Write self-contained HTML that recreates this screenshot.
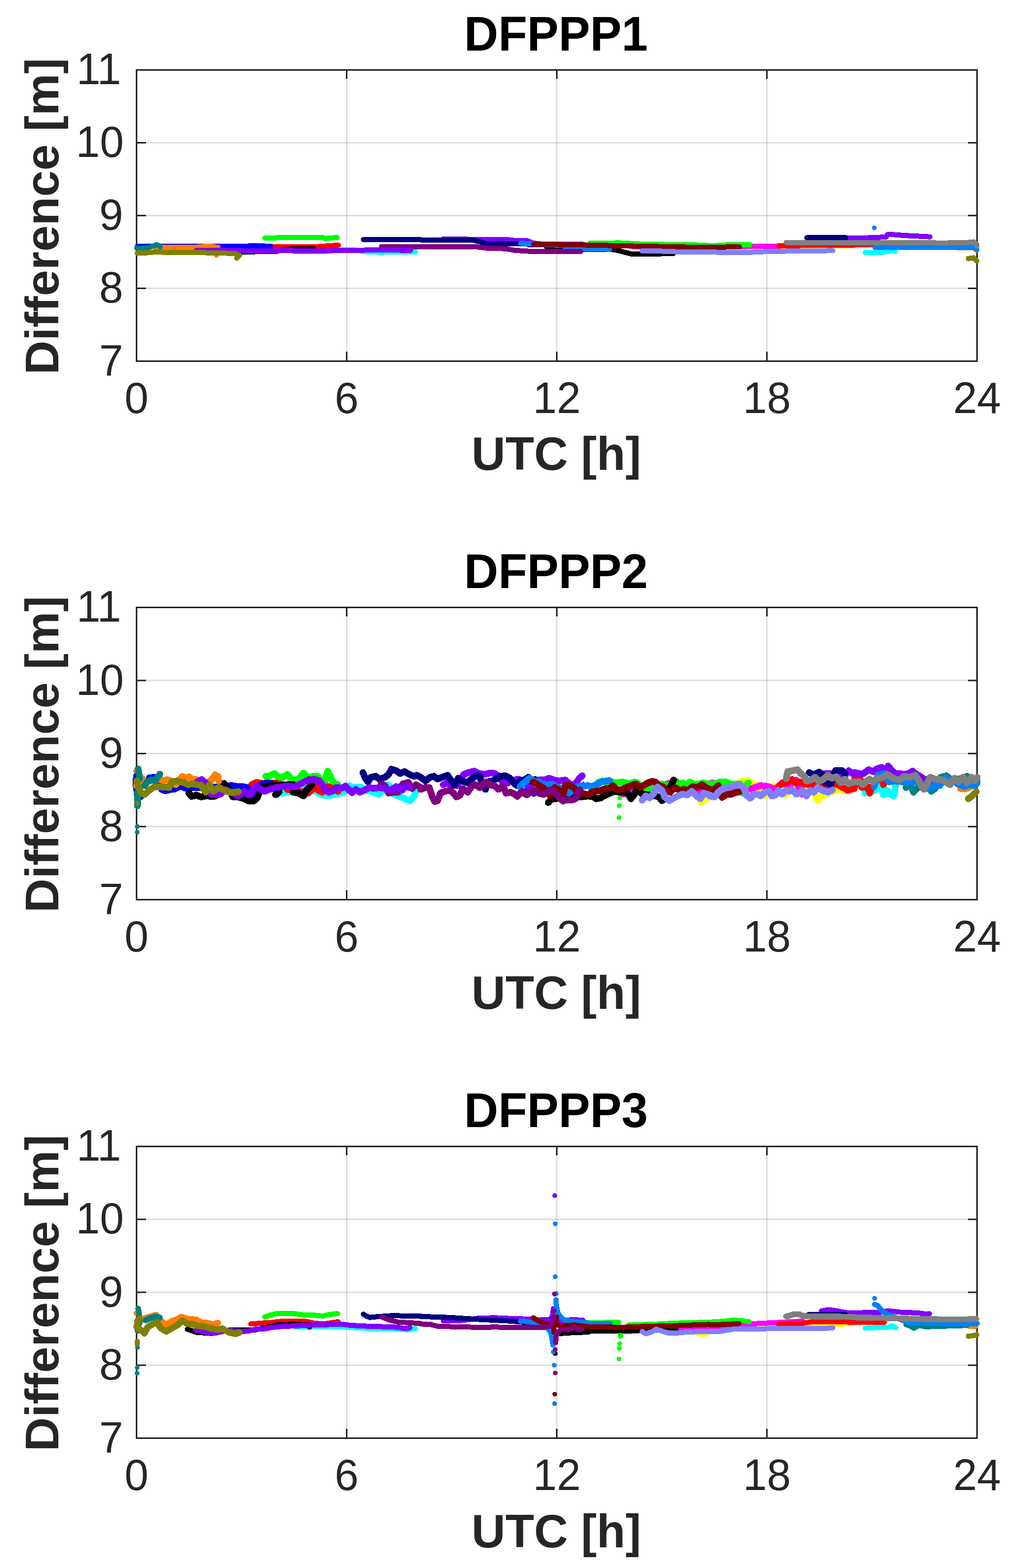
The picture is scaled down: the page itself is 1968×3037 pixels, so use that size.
<!DOCTYPE html>
<html lang="en">
<head>
<meta charset="utf-8">
<title>DFPPP difference plots</title>
<style>
html,body{margin:0;padding:0;background:#fff;}
body{width:1968px;height:3037px;overflow:hidden;}
svg{display:block;}
text{font-family:"Liberation Sans",sans-serif;}
.lab{font-weight:bold;}

</style>
</head>
<body>
<svg width="1968" height="3037" viewBox="0 0 1968 3037">
<rect x="0" y="0" width="1968" height="3037" fill="#fff"/>
<g class="ax" id="ax1">
<g stroke="#262626" stroke-opacity="0.15" stroke-width="3" fill="none">
<line x1="671.5" y1="154.0" x2="671.5" y2="680.0"/>
<line x1="1078.5" y1="154.0" x2="1078.5" y2="680.0"/>
<line x1="1485.5" y1="154.0" x2="1485.5" y2="680.0"/>
<line x1="284.0" y1="558.5" x2="1874.0" y2="558.5"/>
<line x1="284.0" y1="417.5" x2="1874.0" y2="417.5"/>
<line x1="284.0" y1="276.5" x2="1874.0" y2="276.5"/>
</g>
<g stroke="#262626" stroke-width="3" fill="none" stroke-linecap="butt">
<rect x="264.5" y="135.5" width="1628.0" height="564.0"/>
<line x1="671.5" y1="135.5" x2="671.5" y2="153.0"/>
<line x1="671.5" y1="699.5" x2="671.5" y2="681.0"/>
<line x1="1078.5" y1="135.5" x2="1078.5" y2="153.0"/>
<line x1="1078.5" y1="699.5" x2="1078.5" y2="681.0"/>
<line x1="1485.5" y1="135.5" x2="1485.5" y2="153.0"/>
<line x1="1485.5" y1="699.5" x2="1485.5" y2="681.0"/>
<line x1="264.5" y1="558.5" x2="283.0" y2="558.5"/>
<line x1="1892.5" y1="558.5" x2="1875.0" y2="558.5"/>
<line x1="264.5" y1="417.5" x2="283.0" y2="417.5"/>
<line x1="1892.5" y1="417.5" x2="1875.0" y2="417.5"/>
<line x1="264.5" y1="276.5" x2="283.0" y2="276.5"/>
<line x1="1892.5" y1="276.5" x2="1875.0" y2="276.5"/>
</g>
<g fill="none" stroke-linecap="round" stroke-linejoin="round" shape-rendering="crispEdges">
<polyline stroke="#ffff00" stroke-width="10.0" points="1389.5,478.6 1502.1,478.3 1616.5,476.5 1647.4,476.1"/>
<polyline stroke="#ff00ff" stroke-width="10.0" points="1222.1,477.5 1375.0,478.6 1393.2,478.1 1447.6,477.5 1538.4,476.1"/>
<polyline stroke="#00ffff" stroke-width="10.0" points="567.7,487.0 625.8,487.0 660.3,484.4 689.3,484.4 709.3,487.7 734.7,488.6 771.1,488.1 804.6,488.4"/>
<polyline stroke="#00ffff" stroke-width="10.0" points="1675.9,489.0 1709.5,489.0 1718.6,486.6 1734.0,486.3"/>
<polyline stroke="#00ff00" stroke-width="10.0" points="513.2,461.2 535.0,460.5 625.8,460.1 629.4,461.9 636.7,461.2 653.0,460.1"/>
<polyline stroke="#00ff00" stroke-width="10.0" points="1142.6,471.2 1156.7,471.4 1198.5,470.3 1240.3,472.6 1276.6,473.4 1294.7,473.6 1331.1,473.6 1375.0,475.7 1375.0,476.3 1402.2,474.6 1429.5,473.9 1452.7,473.9"/>
<polyline stroke="#ff0000" stroke-width="10.0" points="500.1,475.7 511.0,475.7"/>
<polyline stroke="#ff0000" stroke-width="10.0" points="527.4,477.5 535.0,477.9 607.6,478.3 625.8,476.8 653.0,475.0 655.4,475.0"/>
<polyline stroke="#ff0000" stroke-width="10.0" points="1508.5,475.7 1655.0,475.0 1655.0,473.9 1687.7,473.9"/>
<polyline stroke="#0000ff" stroke-width="10.0" points="266.3,476.6 480.2,476.6 491.1,475.7 500.1,476.6 523.7,476.6"/>
<polyline stroke="#0000ff" stroke-width="10.0" points="1023.8,473.9 1060.1,474.5"/>
<polyline stroke="#000000" stroke-width="10.0" points="469.3,487.7 534.6,487.2 535.0,486.3 565.9,482.1 607.6,482.1"/>
<polyline stroke="#000000" stroke-width="10.0" points="1058.3,477.7 1095.0,478.1 1109.5,478.6 1131.3,483.0 1185.8,483.4 1196.7,484.8 1207.6,488.1 1222.1,491.7 1258.4,491.7 1303.8,491.3"/>
<polyline stroke="#ff8000" stroke-width="10.0" points="301.3,478.6 382.1,478.6 396.6,477.2 409.3,477.2 418.4,478.6 422.1,478.6"/>
<polyline stroke="#ff8000" stroke-width="10.0" points="419.3,493.9 419.5,493.9"/>
<polyline stroke="#ff8000" stroke-width="10.0" points="1854.7,479.9 1885.6,479.9 1892.0,484.4"/>
<polyline stroke="#008080" stroke-width="10.0" points="265.0,480.5 278.6,480.8 291.3,478.6 304.0,473.9 309.5,476.3 310.4,478.1"/>
<polyline stroke="#008080" stroke-width="10.0" points="1754.9,479.2 1836.6,479.2"/>
<polyline stroke="#8000ff" stroke-width="10.0" points="858.6,462.7 894.9,462.7 911.2,463.7 978.4,463.7 996.6,465.7 1020.2,465.9 1032.9,470.8 1051.1,473.0 1095.0,473.0 1095.0,473.0 1127.7,473.0"/>
<polyline stroke="#8000ff" stroke-width="10.0" points="1640.1,461.2 1655.0,461.2 1682.2,460.5 1716.7,459.0 1718.6,454.5 1723.1,453.6 1736.7,455.0 1763.9,456.8 1782.1,457.6 1801.2,458.7"/>
<polyline stroke="#000080" stroke-width="10.0" points="703.9,463.9 815.0,463.9 815.0,464.5 914.9,464.5 927.6,468.1 942.1,471.7 1003.8,471.7 1032.9,472.6"/>
<polyline stroke="#000080" stroke-width="10.0" points="1562.9,460.3 1638.3,460.3"/>
<polyline stroke="#0080ff" stroke-width="10.0" points="1008.4,471.4 1029.3,471.7 1051.1,473.9 1095.0,475.0 1095.0,479.9 1113.2,481.7 1181.3,482.6"/>
<polyline stroke="#0080ff" stroke-width="10.0" points="1694.9,479.4 1885.6,479.0 1892.0,483.5"/>
<polyline stroke="#0080ff" stroke-width="9.2" points="1693.7,441.2 1693.7,441.2"/>
<polyline stroke="#800000" stroke-width="10.0" points="1033.8,473.2 1095.0,473.6 1095.0,473.6 1185.8,475.7 1276.6,477.5 1331.1,478.6 1375.0,479.0 1375.0,479.0 1432.2,478.1"/>
<polyline stroke="#8080ff" stroke-width="10.0" points="1243.9,485.9 1276.6,486.3 1312.9,487.7 1375.0,488.1 1375.0,488.4 1447.6,489.0 1483.9,487.2 1556.6,485.9 1612.9,485.4"/>
<polyline stroke="#800080" stroke-width="10.0" points="739.3,477.5 815.0,477.9 815.0,478.1 923.9,478.3 942.1,480.5 978.4,481.7 996.6,484.8 1032.9,487.2 1095.0,487.5 1095.0,487.5 1125.0,487.2"/>
<polyline stroke="#8000ff" stroke-width="10.0" points="380.3,484.8 454.7,484.8 472.9,485.7 535.0,485.7 535.0,485.4 625.8,485.7 698.4,484.8 716.6,484.1 752.9,483.5 794.7,485.4"/>
<polyline stroke="#808080" stroke-width="10.0" points="1523.0,469.6 1655.0,470.3 1655.0,470.3 1800.3,469.9 1818.4,470.8 1872.9,469.9 1885.6,468.5 1891.1,472.6 1892.5,476.3"/>
<polyline stroke="#808000" stroke-width="10.0" points="265.9,490.3 282.2,489.9 304.0,487.7 318.6,489.0 345.8,489.5 382.1,489.0 418.4,490.1 454.7,490.8 463.8,494.4 458.4,499.9"/>
<polyline stroke="#808000" stroke-width="10.0" points="1875.6,500.8 1885.6,499.3 1892.0,505.3"/>
</g>
<g class="tl" fill="#262626" font-size="83.33px">
<text transform="translate(238.5,727.00) scale(1,1.015)" text-anchor="end">7</text>
<text transform="translate(238.5,586.00) scale(1,1.015)" text-anchor="end">8</text>
<text transform="translate(238.5,445.00) scale(1,1.015)" text-anchor="end">9</text>
<text transform="translate(239.8,304.00) scale(1,1.015)" text-anchor="end">10</text>
<text transform="translate(234.7,163.00) scale(1,1.015)" text-anchor="end">11</text>
<text transform="translate(264.50,800.00) scale(1,1.015)" text-anchor="middle">0</text>
<text transform="translate(671.50,800.00) scale(1,1.015)" text-anchor="middle">6</text>
<text transform="translate(1078.50,800.00) scale(1,1.015)" text-anchor="middle">12</text>
<text transform="translate(1485.50,800.00) scale(1,1.015)" text-anchor="middle">18</text>
<text transform="translate(1892.50,800.00) scale(1,1.015)" text-anchor="middle">24</text>
</g>
<text class="lab" fill="#262626" font-size="91px" text-anchor="middle" transform="translate(1077.50,909.50) scale(1,1.0)">UTC [h]</text>
<text class="lab" fill="#262626" font-size="91.2px" text-anchor="middle" transform="translate(113,418.90) rotate(-90) scale(1,1.0)">Difference [m]</text>
<text class="lab" fill="#000" font-size="91.5px" text-anchor="middle" transform="translate(1077.00,97.50) scale(1,1.037)">DFPPP1</text>
</g>
<g class="ax" id="ax2">
<g stroke="#262626" stroke-opacity="0.15" stroke-width="3" fill="none">
<line x1="671.5" y1="1195.0" x2="671.5" y2="1723.0"/>
<line x1="1078.5" y1="1195.0" x2="1078.5" y2="1723.0"/>
<line x1="1485.5" y1="1195.0" x2="1485.5" y2="1723.0"/>
<line x1="284.0" y1="1601.0" x2="1874.0" y2="1601.0"/>
<line x1="284.0" y1="1459.5" x2="1874.0" y2="1459.5"/>
<line x1="284.0" y1="1318.0" x2="1874.0" y2="1318.0"/>
</g>
<g stroke="#262626" stroke-width="3" fill="none" stroke-linecap="butt">
<rect x="264.5" y="1176.5" width="1628.0" height="566.0"/>
<line x1="671.5" y1="1176.5" x2="671.5" y2="1194.0"/>
<line x1="671.5" y1="1742.5" x2="671.5" y2="1724.0"/>
<line x1="1078.5" y1="1176.5" x2="1078.5" y2="1194.0"/>
<line x1="1078.5" y1="1742.5" x2="1078.5" y2="1724.0"/>
<line x1="1485.5" y1="1176.5" x2="1485.5" y2="1194.0"/>
<line x1="1485.5" y1="1742.5" x2="1485.5" y2="1724.0"/>
<line x1="264.5" y1="1601.0" x2="283.0" y2="1601.0"/>
<line x1="1892.5" y1="1601.0" x2="1875.0" y2="1601.0"/>
<line x1="264.5" y1="1459.5" x2="283.0" y2="1459.5"/>
<line x1="1892.5" y1="1459.5" x2="1875.0" y2="1459.5"/>
<line x1="264.5" y1="1318.0" x2="283.0" y2="1318.0"/>
<line x1="1892.5" y1="1318.0" x2="1875.0" y2="1318.0"/>
</g>
<g fill="none" stroke-linecap="round" stroke-linejoin="round" shape-rendering="crispEdges">
<polyline stroke="#ffff00" stroke-width="13.0" points="1358.3,1553.5 1365.6,1548.9 1375.0,1541.7 1375.0,1538.1 1411.3,1527.2 1438.6,1512.6 1447.6,1511.7 1460.3,1519.9 1467.6,1519.9 1482.1,1541.7 1496.7,1521.7 1509.4,1534.4 1522.1,1539.9 1533.0,1523.5 1556.6,1523.5 1563.8,1527.2 1572.9,1519.9 1580.2,1543.5 1584.7,1550.8 1589.3,1543.5 1598.3,1539.0 1618.3,1530.8 1625.6,1529.0 1632.8,1529.0"/>
<polyline stroke="#ff00ff" stroke-width="13.0" points="1207.6,1538.1 1225.7,1532.6 1240.3,1530.8 1262.1,1524.4 1276.6,1521.7 1311.1,1514.4 1318.3,1529.0 1331.1,1527.2 1356.5,1535.3 1375.0,1518.1 1375.0,1518.1 1380.4,1516.3 1393.2,1521.7 1411.3,1525.3 1429.5,1527.2 1451.3,1529.0 1462.2,1525.3 1473.1,1521.7 1483.9,1522.6 1493.0,1525.3 1500.3,1529.0 1509.4,1521.7 1516.6,1515.4 1527.5,1521.7 1542.1,1510.8 1547.5,1525.3 1553.0,1538.1"/>
<polyline stroke="#00ffff" stroke-width="13.0" points="545.9,1536.2 556.8,1534.4 571.3,1532.6 589.5,1527.2 607.6,1530.8 622.2,1539.0 629.4,1540.8 643.9,1539.9 658.5,1536.2 669.4,1532.6 676.6,1521.7 683.9,1525.3 698.4,1524.4 709.3,1530.8 716.6,1532.6 727.5,1536.2 734.7,1538.1 742.0,1530.8 752.9,1519.9 762.0,1538.1 771.1,1541.7 780.1,1545.3 789.2,1548.9 794.7,1550.8 801.9,1541.7 807.4,1530.8"/>
<polyline stroke="#00ffff" stroke-width="13.0" points="1675.0,1536.2 1684.1,1534.4 1694.9,1530.8 1704.0,1521.7 1711.3,1539.9 1718.6,1530.8 1724.0,1538.1 1731.3,1541.7 1734.9,1519.9"/>
<polyline stroke="#00ff00" stroke-width="13.0" points="514.7,1503.6 521.9,1502.6 531.0,1498.1 535.0,1500.8 535.0,1501.7 544.1,1507.2 556.8,1499.9 565.9,1510.8 576.8,1510.8 587.7,1497.2 596.7,1507.2 605.8,1503.6 614.9,1503.6 624.0,1512.6 629.4,1512.6 634.9,1493.6 642.1,1509.0 647.6,1518.1 653.9,1519.0"/>
<polyline stroke="#00ff00" stroke-width="13.0" points="614.9,1516.3 620.3,1529.0"/>
<polyline stroke="#00ff00" stroke-width="13.0" points="1158.6,1515.4 1167.6,1512.6 1176.7,1516.3 1185.8,1514.4 1194.9,1516.3 1205.8,1514.4 1218.5,1518.1 1229.4,1514.4 1234.8,1516.3 1245.7,1530.8 1258.4,1530.8 1269.3,1525.3 1282.0,1518.1 1291.1,1521.7 1300.2,1519.9 1312.9,1518.1 1322.0,1516.3 1329.2,1521.7 1336.5,1514.4 1345.6,1519.9 1352.8,1518.1 1361.9,1516.3 1375.0,1519.9 1375.0,1519.0 1385.9,1518.1 1395.0,1514.4 1405.9,1514.4 1414.9,1518.1 1424.0,1518.1 1433.1,1518.1 1438.6,1536.2 1444.0,1521.7 1449.4,1516.3"/>
<polyline stroke="#00ff00" stroke-width="9.2" points="1200.3,1545.9 1200.3,1545.9"/>
<polyline stroke="#00ff00" stroke-width="9.2" points="1199.4,1560.2 1199.4,1560.2"/>
<polyline stroke="#00ff00" stroke-width="9.2" points="1198.9,1583.8 1198.9,1583.8"/>
<polyline stroke="#ff0000" stroke-width="13.0" points="487.4,1519.9 496.5,1515.4 509.2,1517.2 521.9,1516.3 535.0,1516.3 535.0,1517.2 549.5,1519.9 556.8,1529.0 571.3,1530.8 596.7,1536.2 607.6,1527.2 613.1,1523.5 616.7,1530.8 624.0,1534.4 631.2,1527.2 636.7,1523.5 643.9,1527.2 654.8,1532.6"/>
<polyline stroke="#ff0000" stroke-width="13.0" points="1509.4,1521.7 1520.3,1516.3 1529.3,1512.6 1534.8,1509.9 1542.1,1516.3 1549.3,1514.4 1556.6,1518.1 1567.5,1519.9 1580.2,1519.9 1596.5,1523.5 1607.4,1521.7 1618.3,1518.1 1629.2,1523.5 1641.9,1530.8 1655.0,1527.2 1655.0,1509.0 1665.9,1507.2 1669.5,1525.3 1678.6,1521.7 1685.0,1536.2 1688.6,1525.3 1696.8,1512.6 1704.0,1498.1 1711.3,1519.9"/>
<polyline stroke="#0000ff" stroke-width="13.0" points="264.1,1503.6 263.7,1521.7 265.9,1539.0 273.2,1542.6"/>
<polyline stroke="#0000ff" stroke-width="13.0" points="289.5,1506.3 298.6,1505.7 305.8,1514.4 313.1,1529.0 320.4,1531.7 331.3,1529.0 338.5,1528.1 349.4,1522.6 358.5,1526.3 367.6,1526.3 382.1,1525.3 436.6,1523.5 447.5,1521.3 458.4,1523.2 469.3,1523.2 478.3,1525.3 485.6,1534.4 491.1,1540.8"/>
<polyline stroke="#0000ff" stroke-width="13.0" points="505.6,1519.4 520.1,1515.9 527.4,1518.1"/>
<polyline stroke="#0000ff" stroke-width="9.2" points="1019.3,1529.9 1019.3,1529.9"/>
<polyline stroke="#0000ff" stroke-width="9.2" points="1033.8,1539.0 1033.8,1539.0"/>
<polyline stroke="#0000ff" stroke-width="9.2" points="1129.5,1519.0 1129.5,1519.0"/>
<polyline stroke="#000000" stroke-width="13.0" points="365.8,1536.2 371.2,1542.6 380.3,1539.9 389.4,1543.5 398.5,1541.7 414.8,1542.6 423.9,1538.1 433.9,1517.2 442.0,1525.3 451.1,1543.5 460.2,1543.5 472.9,1547.1 482.0,1551.7 491.1,1551.7 498.3,1545.3 502.0,1536.2 509.2,1524.4 527.4,1521.2 535.0,1520.8 545.9,1521.7 556.8,1519.9 567.7,1519.4"/>
<polyline stroke="#000000" stroke-width="13.0" points="533.7,1539.0 535.0,1539.0 540.4,1534.4"/>
<polyline stroke="#000000" stroke-width="13.0" points="567.7,1534.4 578.6,1536.2 587.7,1541.7 593.1,1530.8 604.0,1519.9 598.6,1509.9"/>
<polyline stroke="#000000" stroke-width="13.0" points="1062.0,1554.4 1069.2,1547.1 1076.5,1547.1 1095.0,1543.5 1098.6,1541.7 1105.9,1538.1 1115.0,1543.5 1125.9,1543.5 1138.6,1541.7 1149.5,1543.5 1154.9,1547.1 1164.0,1545.3 1173.1,1539.9 1182.2,1536.2 1189.4,1532.6 1200.3,1534.4 1214.8,1534.4 1222.1,1547.1 1229.4,1538.1 1233.0,1530.8 1238.5,1532.6 1243.9,1538.1 1258.4,1539.9 1269.3,1541.7 1276.6,1543.5 1282.0,1550.8 1287.5,1547.1"/>
<polyline stroke="#000000" stroke-width="13.0" points="1304.7,1510.8 1298.4,1523.5"/>
<polyline stroke="#ff8000" stroke-width="13.0" points="264.1,1521.7 275.0,1507.2 282.2,1514.4 309.5,1509.0 316.7,1511.7 324.0,1509.9 333.1,1513.5 340.3,1519.9 353.1,1503.9 360.3,1507.2 365.8,1504.5 373.0,1509.9 380.3,1509.9 387.6,1514.4 396.6,1516.3 405.7,1514.4 411.2,1509.0 416.6,1500.8 422.1,1503.6 423.9,1512.6"/>
<polyline stroke="#ff8000" stroke-width="13.0" points="1860.2,1527.2 1869.3,1528.1 1876.5,1525.3 1891.1,1518.1"/>
<polyline stroke="#ff8000" stroke-width="9.2" points="262.6,1493.9 262.6,1493.9"/>
<polyline stroke="#008080" stroke-width="13.0" points="267.7,1489.4 269.2,1499.9 270.4,1509.0"/>
<polyline stroke="#008080" stroke-width="13.0" points="265.9,1534.4 266.3,1560.8"/>
<polyline stroke="#008080" stroke-width="13.0" points="280.4,1521.7 285.9,1513.5 293.1,1510.5 300.4,1511.7 309.5,1499.4"/>
<polyline stroke="#008080" stroke-width="13.0" points="1754.9,1525.3 1763.9,1519.9 1769.4,1534.4 1778.5,1525.3 1782.1,1523.5 1793.0,1509.0 1803.9,1532.6 1811.2,1527.2 1822.1,1505.4 1833.0,1502.6 1845.7,1512.6 1872.9,1503.6 1892.9,1512.6"/>
<polyline stroke="#008080" stroke-width="9.2" points="265.9,1600.7 265.9,1600.7"/>
<polyline stroke="#008080" stroke-width="9.2" points="265.9,1612.1 265.9,1612.1"/>
<polyline stroke="#8000ff" stroke-width="13.0" points="858.6,1519.9 865.8,1516.3 874.9,1521.7 885.8,1521.7 893.1,1509.0 898.5,1499.9 907.6,1496.3 918.5,1493.6 927.6,1498.1 938.5,1499.9 949.4,1497.2 958.5,1498.1 965.7,1503.6 973.0,1514.4 983.9,1516.3 996.6,1510.8 1003.8,1509.0 1014.7,1512.6 1023.8,1523.5 1032.9,1516.3 1043.8,1510.8 1054.7,1510.8 1063.8,1507.2 1072.8,1510.8 1081.9,1512.6 1095.0,1510.8 1095.0,1510.8 1098.6,1514.4 1105.9,1519.9 1115.0,1518.1 1122.2,1507.2 1127.7,1502.6"/>
<polyline stroke="#8000ff" stroke-width="13.0" points="1597.4,1498.1 1611.1,1499.0 1632.8,1507.2 1643.7,1492.7 1651.0,1498.1 1655.0,1498.1 1655.0,1496.3 1664.1,1498.1 1673.2,1498.1 1682.2,1490.8 1691.3,1494.5 1698.6,1489.0 1707.7,1486.3 1714.9,1490.8 1720.4,1483.6 1727.6,1492.7 1733.1,1498.1 1742.2,1498.1 1751.2,1499.9 1760.3,1498.1 1767.6,1493.6 1773.0,1498.1 1782.1,1503.6 1787.6,1507.2"/>
<polyline stroke="#8000ff" stroke-width="9.2" points="1803.9,1516.3 1803.9,1516.3"/>
<polyline stroke="#000080" stroke-width="13.0" points="703.0,1496.3 707.5,1507.2 713.0,1514.4 718.4,1505.4 727.5,1503.6 734.7,1509.0 745.6,1505.4 752.9,1499.9 758.3,1489.9 767.4,1492.7 774.7,1498.1 783.8,1494.5 792.8,1499.9 801.9,1503.6 807.4,1501.7 815.0,1505.4 815.0,1505.4 824.1,1512.6 833.2,1505.4 840.4,1503.6 847.7,1509.0 856.8,1505.4 866.8,1501.7 874.9,1512.6 880.4,1519.9 887.6,1507.2 894.9,1512.6 905.8,1516.3 913.1,1509.0 923.9,1501.7 929.4,1503.6 933.0,1516.3 940.3,1529.0 945.7,1514.4 953.0,1512.6 960.3,1509.0 969.3,1503.6 978.4,1502.6 987.5,1507.2 996.6,1518.1 1002.0,1521.7 1007.5,1512.6 1014.7,1510.8 1023.8,1505.4 1029.3,1512.6 1036.5,1509.9"/>
<polyline stroke="#000080" stroke-width="13.0" points="1567.5,1496.3 1576.6,1500.8 1586.5,1495.4 1592.9,1500.8 1598.3,1516.3 1603.8,1517.2 1609.2,1519.9 1612.9,1503.6 1618.3,1492.7 1631.0,1492.7 1636.5,1498.1"/>
<polyline stroke="#0080ff" stroke-width="13.0" points="1007.5,1523.5 1014.7,1516.3 1025.6,1507.2 1032.9,1512.6 1043.8,1514.4 1051.1,1518.1 1060.1,1519.9 1069.2,1518.1 1076.5,1523.5 1087.4,1527.2 1095.0,1525.3 1095.0,1534.4 1102.3,1536.2 1109.5,1530.8 1116.8,1523.5 1127.7,1522.6 1138.6,1521.7 1145.8,1523.5 1154.9,1519.9 1165.8,1514.4 1174.9,1512.6 1180.3,1511.7"/>
<polyline stroke="#0080ff" stroke-width="13.0" points="1693.1,1523.5 1700.4,1501.7 1711.3,1498.1 1722.2,1514.4 1731.3,1512.6 1749.4,1514.4 1756.7,1516.3 1771.2,1512.6 1782.1,1518.1 1796.6,1527.2 1809.3,1521.7 1820.2,1521.7 1829.3,1507.2 1843.8,1509.0 1854.7,1518.1 1867.5,1523.5 1878.3,1519.9 1887.4,1521.7 1892.9,1516.3"/>
<polyline stroke="#800000" stroke-width="13.0" points="1032.9,1514.4 1042.0,1519.9 1051.1,1525.3 1058.3,1530.8 1065.6,1541.7 1074.7,1525.3 1083.7,1530.8 1091.0,1538.1 1095.0,1521.7 1095.0,1519.9 1104.1,1521.7 1111.3,1525.3 1118.6,1534.4 1127.7,1536.2 1138.6,1539.9 1145.8,1534.4 1154.9,1532.6 1164.0,1530.8 1173.1,1527.2 1180.3,1527.2 1187.6,1521.7 1193.1,1529.0 1203.9,1529.0 1213.0,1525.3 1222.1,1521.7 1231.2,1518.1 1240.3,1525.3 1245.7,1521.7 1254.8,1516.3 1262.1,1513.5 1269.3,1514.4 1276.6,1521.7 1283.8,1523.5 1291.1,1530.8 1298.4,1534.4 1307.5,1525.3 1316.5,1530.8 1325.6,1529.0 1332.9,1530.8 1342.0,1523.5 1351.0,1525.3 1360.1,1519.9 1367.4,1525.3 1375.0,1529.0 1375.0,1529.0 1384.1,1529.0 1391.3,1521.7 1395.0,1534.4 1398.6,1544.4 1407.7,1539.0 1416.8,1538.1 1427.7,1534.4 1433.1,1533.5"/>
<polyline stroke="#8080ff" stroke-width="13.0" points="1243.9,1549.9 1251.2,1541.7 1258.4,1545.3 1265.7,1538.1 1273.9,1524.4 1282.0,1530.8 1287.5,1543.5 1296.6,1550.8 1305.6,1545.3 1312.9,1541.7 1322.0,1538.1 1331.1,1539.9 1340.1,1532.6 1349.2,1541.7 1356.5,1547.1 1363.7,1536.2 1375.0,1539.9 1375.0,1541.7 1384.1,1543.5 1391.3,1534.4 1400.4,1527.2 1411.3,1525.3 1422.2,1521.7 1433.1,1519.9 1440.4,1525.3 1445.8,1539.9 1453.1,1546.2 1460.3,1538.1 1467.6,1538.1 1473.1,1541.7 1482.1,1534.4 1489.4,1532.6 1494.8,1541.7 1502.1,1539.9 1507.6,1530.8 1514.8,1538.1 1522.1,1530.8 1529.3,1532.6 1534.8,1529.0 1542.1,1538.1 1549.3,1536.2 1554.8,1530.8 1562.0,1541.7 1569.3,1530.8 1576.6,1534.4 1583.8,1525.3 1592.9,1530.8 1603.8,1534.4 1612.9,1529.9"/>
<polyline stroke="#800080" stroke-width="13.0" points="738.4,1518.1 745.6,1521.7 752.9,1536.2 762.0,1534.4 771.1,1534.4 780.1,1518.1 791.0,1515.4 798.3,1527.2 805.6,1519.9 815.0,1525.3 815.0,1529.0 824.1,1525.3 831.3,1525.3 836.8,1541.7 842.2,1552.6 847.7,1550.8 853.1,1536.2 862.2,1532.6 871.3,1530.8 878.6,1536.2 884.0,1543.5 891.3,1539.9 896.7,1527.2 905.8,1534.4 914.9,1521.7 920.3,1519.9 929.4,1525.3 940.3,1514.4 949.4,1519.9 960.3,1523.5 965.7,1529.0 974.8,1521.7 980.2,1536.2 989.3,1534.4 996.6,1538.1 1002.0,1542.6 1011.1,1532.6 1020.2,1539.9 1025.6,1534.4 1034.7,1530.8 1043.8,1536.2 1052.9,1539.0 1060.1,1534.4 1067.4,1529.0 1074.7,1534.4 1083.7,1545.3 1091.0,1551.7 1095.0,1548.9 1095.0,1548.9 1105.9,1549.9 1115.0,1547.1 1120.4,1534.4 1123.1,1529.9"/>
<polyline stroke="#8000ff" stroke-width="13.0" points="382.1,1514.4 390.3,1509.9 398.5,1516.3 405.7,1530.8 409.3,1538.1 418.4,1539.0 427.5,1538.1 436.6,1529.0 447.5,1534.4 462.0,1541.7 472.9,1532.6 482.0,1539.9 491.1,1530.8 496.5,1523.5 505.6,1529.0 512.8,1532.6 521.9,1529.0 535.0,1525.3 535.0,1525.3 553.2,1522.6 571.3,1523.5 582.2,1518.1 593.1,1512.6 607.6,1509.0 618.5,1512.6 625.8,1521.7 631.2,1530.8 636.7,1534.4 643.9,1532.6 651.2,1525.3 662.1,1526.3 669.4,1522.6 676.6,1530.8 682.1,1535.3 689.3,1529.0 696.6,1534.4 705.7,1530.8 714.8,1525.3 723.8,1527.2 734.7,1525.3 745.6,1527.2 756.5,1530.8 767.4,1523.5 778.3,1530.8 787.4,1521.7 792.8,1525.3"/>
<polyline stroke="#808080" stroke-width="13.0" points="1523.0,1508.1 1525.7,1494.5 1534.8,1492.7 1544.8,1490.8 1551.1,1498.1 1558.4,1503.6 1562.0,1512.6 1571.1,1510.8 1578.4,1505.4 1585.6,1512.6 1592.9,1510.8 1603.8,1501.7 1611.1,1507.2 1620.1,1504.5 1629.2,1516.3 1636.5,1509.0 1643.7,1518.1 1655.0,1514.4 1655.0,1514.4 1664.1,1514.4 1671.3,1519.9 1678.6,1512.6 1684.1,1509.0 1691.3,1514.4 1698.6,1507.2 1707.7,1507.2 1718.6,1499.9 1727.6,1505.4 1734.9,1509.0 1742.2,1510.8 1751.2,1503.6 1760.3,1505.4 1773.0,1501.7 1780.3,1512.6 1785.7,1523.5 1789.4,1529.0 1794.8,1519.9 1802.1,1505.4 1811.2,1509.0 1818.4,1509.0 1829.3,1512.6 1840.2,1519.9 1849.3,1507.2 1856.6,1514.4 1865.6,1505.4 1872.9,1516.3 1882.0,1505.4 1887.4,1512.6 1892.9,1505.4"/>
<polyline stroke="#808000" stroke-width="13.0" points="265.0,1512.6 266.8,1519.9 269.5,1527.2 274.1,1536.2 279.5,1539.0 285.0,1534.4 291.3,1529.0 298.6,1524.4 307.7,1523.5 316.7,1524.4 327.6,1525.3 333.1,1514.4 342.2,1512.6 354.9,1515.4 363.9,1519.9 373.0,1518.1 382.1,1519.9 389.4,1520.8 398.5,1534.4 405.7,1519.9 413.0,1532.6 423.9,1525.3 433.0,1529.9 443.8,1534.4 452.9,1534.4 462.0,1533.5"/>
<polyline stroke="#808000" stroke-width="13.0" points="1875.6,1547.1 1882.0,1542.6 1891.1,1533.5"/>
<polyline stroke="#808000" stroke-width="9.2" points="265.9,1556.2 265.9,1556.2"/>
</g>
<g class="tl" fill="#262626" font-size="83.33px">
<text transform="translate(238.5,1770.00) scale(1,1.015)" text-anchor="end">7</text>
<text transform="translate(238.5,1628.50) scale(1,1.015)" text-anchor="end">8</text>
<text transform="translate(238.5,1487.00) scale(1,1.015)" text-anchor="end">9</text>
<text transform="translate(239.8,1345.50) scale(1,1.015)" text-anchor="end">10</text>
<text transform="translate(234.7,1204.00) scale(1,1.015)" text-anchor="end">11</text>
<text transform="translate(264.50,1843.00) scale(1,1.015)" text-anchor="middle">0</text>
<text transform="translate(671.50,1843.00) scale(1,1.015)" text-anchor="middle">6</text>
<text transform="translate(1078.50,1843.00) scale(1,1.015)" text-anchor="middle">12</text>
<text transform="translate(1485.50,1843.00) scale(1,1.015)" text-anchor="middle">18</text>
<text transform="translate(1892.50,1843.00) scale(1,1.015)" text-anchor="middle">24</text>
</g>
<text class="lab" fill="#262626" font-size="91px" text-anchor="middle" transform="translate(1077.50,1953.80) scale(1,1.0)">UTC [h]</text>
<text class="lab" fill="#262626" font-size="91.2px" text-anchor="middle" transform="translate(113,1460.90) rotate(-90) scale(1,1.0)">Difference [m]</text>
<text class="lab" fill="#000" font-size="91.5px" text-anchor="middle" transform="translate(1077.00,1138.50) scale(1,1.037)">DFPPP2</text>
</g>
<g class="ax" id="ax3">
<g stroke="#262626" stroke-opacity="0.15" stroke-width="3" fill="none">
<line x1="671.5" y1="2239.0" x2="671.5" y2="2766.0"/>
<line x1="1078.5" y1="2239.0" x2="1078.5" y2="2766.0"/>
<line x1="1485.5" y1="2239.0" x2="1485.5" y2="2766.0"/>
<line x1="284.0" y1="2644.25" x2="1874.0" y2="2644.25"/>
<line x1="284.0" y1="2503.0" x2="1874.0" y2="2503.0"/>
<line x1="284.0" y1="2361.75" x2="1874.0" y2="2361.75"/>
</g>
<g stroke="#262626" stroke-width="3" fill="none" stroke-linecap="butt">
<rect x="264.5" y="2220.5" width="1628.0" height="565.0"/>
<line x1="671.5" y1="2220.5" x2="671.5" y2="2238.0"/>
<line x1="671.5" y1="2785.5" x2="671.5" y2="2767.0"/>
<line x1="1078.5" y1="2220.5" x2="1078.5" y2="2238.0"/>
<line x1="1078.5" y1="2785.5" x2="1078.5" y2="2767.0"/>
<line x1="1485.5" y1="2220.5" x2="1485.5" y2="2238.0"/>
<line x1="1485.5" y1="2785.5" x2="1485.5" y2="2767.0"/>
<line x1="264.5" y1="2644.25" x2="283.0" y2="2644.25"/>
<line x1="1892.5" y1="2644.25" x2="1875.0" y2="2644.25"/>
<line x1="264.5" y1="2503.0" x2="283.0" y2="2503.0"/>
<line x1="1892.5" y1="2503.0" x2="1875.0" y2="2503.0"/>
<line x1="264.5" y1="2361.75" x2="283.0" y2="2361.75"/>
<line x1="1892.5" y1="2361.75" x2="1875.0" y2="2361.75"/>
</g>
<g fill="none" stroke-linecap="round" stroke-linejoin="round" shape-rendering="crispEdges">
<polyline stroke="#ffff00" stroke-width="10.0" points="1352.8,2583.5 1367.4,2583.5 1380.4,2572.6 1429.5,2570.4 1502.1,2567.5 1574.7,2565.0 1647.4,2564.4"/>
<polyline stroke="#ff00ff" stroke-width="10.0" points="1211.2,2579.5 1312.9,2571.5 1375.0,2570.8 1375.0,2571.7 1393.2,2568.9 1429.5,2567.1 1465.8,2563.5 1502.1,2561.7 1538.4,2559.9 1554.8,2559.0"/>
<polyline stroke="#00ffff" stroke-width="10.0" points="571.3,2570.0 625.8,2569.1 662.1,2570.0 689.3,2571.9 716.6,2572.8 752.9,2572.8 789.2,2575.7 804.6,2573.5"/>
<polyline stroke="#00ffff" stroke-width="10.0" points="1675.9,2572.6 1700.4,2570.8 1718.6,2570.8 1727.6,2568.0 1734.9,2571.7"/>
<polyline stroke="#00ff00" stroke-width="10.0" points="512.8,2550.8 523.7,2547.2 535.0,2544.4 535.0,2544.4 571.3,2544.4 589.5,2547.2 607.6,2547.2 625.8,2549.0 636.7,2546.3 651.2,2544.4 653.9,2544.4"/>
<polyline stroke="#00ff00" stroke-width="10.0" points="1140.4,2561.7 1167.6,2561.7 1185.8,2560.8 1198.5,2561.3"/>
<polyline stroke="#00ff00" stroke-width="10.0" points="1201.2,2578.0 1202.1,2588.0"/>
<polyline stroke="#00ff00" stroke-width="10.0" points="1218.5,2566.2 1258.4,2565.3 1312.9,2562.6 1375.0,2560.8 1375.0,2560.8 1402.2,2559.0 1420.4,2557.1 1438.6,2558.1 1451.3,2560.2"/>
<polyline stroke="#00ff00" stroke-width="9.2" points="1200.3,2602.5 1200.3,2602.5"/>
<polyline stroke="#00ff00" stroke-width="9.2" points="1199.4,2611.6 1199.4,2611.6"/>
<polyline stroke="#00ff00" stroke-width="9.2" points="1198.9,2632.1 1198.9,2632.1"/>
<polyline stroke="#ff0000" stroke-width="10.0" points="485.6,2564.4 509.2,2562.6 535.0,2560.8 535.0,2559.9 553.2,2559.0 589.5,2559.0 607.6,2562.6 625.8,2564.4 643.9,2561.7 654.8,2559.9"/>
<polyline stroke="#ff0000" stroke-width="10.0" points="1508.5,2565.3 1529.3,2563.5 1556.6,2562.6 1574.7,2559.9 1611.1,2559.9 1655.0,2560.8 1655.0,2560.8 1691.3,2560.8 1713.1,2560.8"/>
<polyline stroke="#000000" stroke-width="10.0" points="363.0,2574.4 382.1,2580.8 409.3,2582.6 427.5,2579.8 445.7,2575.8 472.9,2575.8 491.1,2576.2 509.2,2572.6 535.0,2567.5 535.0,2566.2 571.3,2565.0 600.4,2566.2"/>
<polyline stroke="#000000" stroke-width="10.0" points="1084.7,2582.9 1112.4,2581.0 1140.0,2580.1 1131.3,2577.7 1185.8,2577.7 1236.6,2576.8 1276.6,2575.5 1309.3,2574.8"/>
<polyline stroke="#000000" stroke-width="9.2" points="599.5,2571.1 599.5,2571.1"/>
<polyline stroke="#000000" stroke-width="9.2" points="1075.5,2621.7 1075.5,2621.7"/>
<polyline stroke="#ff8000" stroke-width="12.5" points="264.1,2568.9 275.0,2555.3 284.1,2552.6 302.2,2547.2 314.9,2561.7 322.2,2566.2 333.1,2559.0 342.2,2556.2 351.2,2550.8 360.3,2554.4 371.2,2555.3 380.3,2556.2 389.4,2561.7 400.3,2562.6 413.0,2565.3 422.1,2562.6"/>
<polyline stroke="#ff8000" stroke-width="10.0" points="1876.5,2568.9 1890.1,2568.6"/>
<polyline stroke="#ff8000" stroke-width="9.2" points="263.2,2543.5 263.2,2543.5"/>
<polyline stroke="#008080" stroke-width="11" points="267.7,2534.4 269.5,2545.3 270.4,2558.1 266.8,2578.0"/>
<polyline stroke="#008080" stroke-width="12" points="282.2,2557.1 291.3,2553.0 302.2,2549.9 309.5,2552.2"/>
<polyline stroke="#008080" stroke-width="10.0" points="1754.9,2565.3 1763.9,2568.9 1770.3,2572.6 1780.3,2567.1 1793.0,2569.9 1818.4,2568.9 1854.7,2568.0 1872.9,2567.1"/>
<polyline stroke="#008080" stroke-width="9.2" points="265.9,2648.8 265.9,2648.8"/>
<polyline stroke="#008080" stroke-width="9.2" points="265.5,2659.7 265.5,2659.7"/>
<polyline stroke="#008080" stroke-width="9.2" points="266.3,2609.8 266.3,2609.8"/>
<polyline stroke="#8000ff" stroke-width="10.0" points="858.6,2558.1 887.6,2558.1 905.8,2556.2 923.9,2553.5 956.6,2552.2 996.6,2554.1 1023.8,2554.8 1051.1,2557.1 1047.7,2556.1 1066.2,2556.1 1070.8,2545.9 1071.8,2534.8"/>
<polyline stroke="#8000ff" stroke-width="10.0" points="1084.7,2558.8 1094.0,2557.0 1112.4,2556.1 1129.1,2557.0"/>
<polyline stroke="#8000ff" stroke-width="10.0" points="1591.1,2539.0 1605.6,2536.6 1625.6,2539.9 1640.1,2542.6 1655.0,2542.6 1655.0,2543.5 1682.2,2541.7 1700.4,2542.6 1720.4,2539.0 1745.8,2541.7 1767.6,2542.6 1782.1,2543.5 1793.0,2545.3 1800.3,2544.4"/>
<polyline stroke="#8000ff" stroke-width="9.2" points="1074.5,2315.9 1074.6,2315.9"/>
<polyline stroke="#000080" stroke-width="10.0" points="703.9,2545.3 709.3,2549.0 716.6,2551.7 734.7,2549.9 762.0,2548.1 789.2,2549.0 815.0,2549.0 815.0,2549.9 869.5,2551.7 923.9,2555.3 978.4,2558.1 1003.8,2559.9 1032.9,2562.6"/>
<polyline stroke="#000080" stroke-width="10.0" points="1565.7,2546.3 1592.9,2546.3 1638.3,2546.3"/>
<polyline stroke="#0080ff" stroke-width="10.0" points="1008.4,2559.0 1023.8,2559.9 1042.0,2563.5 1047.7,2566.2 1062.5,2574.5 1066.2,2580.1 1068.1,2586.6 1069.9,2598.6 1070.8,2605.1"/>
<polyline stroke="#0080ff" stroke-width="10.0" points="1076.9,2517.3 1077.3,2525.5 1078.7,2533.9 1081.0,2543.1 1084.7,2549.6 1090.3,2555.1 1098.6,2557.9 1112.4,2559.8 1130.9,2561.6 1140.0,2562.5 1131.3,2563.5 1182.2,2564.4"/>
<polyline stroke="#0080ff" stroke-width="10.0" points="1694.0,2526.3 1700.4,2529.0 1709.5,2539.9 1718.6,2545.3 1736.7,2552.6 1754.9,2559.9 1763.9,2562.6 1818.4,2563.5 1872.9,2563.9 1892.9,2563.5"/>
<polyline stroke="#0080ff" stroke-width="9.2" points="1075.5,2370.3 1075.5,2370.3"/>
<polyline stroke="#0080ff" stroke-width="9.2" points="1075.5,2472.7 1075.5,2472.7"/>
<polyline stroke="#0080ff" stroke-width="9.2" points="1077.3,2505.7 1077.3,2505.7"/>
<polyline stroke="#0080ff" stroke-width="9.2" points="1071.8,2618.5 1071.8,2618.5"/>
<polyline stroke="#0080ff" stroke-width="9.2" points="1073.6,2644.3 1073.6,2644.3"/>
<polyline stroke="#0080ff" stroke-width="9.2" points="1074.1,2718.8 1074.1,2718.8"/>
<polyline stroke="#0080ff" stroke-width="9.2" points="1694.0,2514.8 1694.1,2514.8"/>
<polyline stroke="#800000" stroke-width="10.0" points="1032.9,2552.4 1043.1,2558.8 1057.0,2563.9 1068.1,2565.8 1075.5,2563.5 1077.8,2550.5"/>
<polyline stroke="#800000" stroke-width="10.0" points="1075.5,2563.5 1072.7,2571.8 1072.7,2580.1"/>
<polyline stroke="#800000" stroke-width="10.0" points="1075.5,2564.4 1084.7,2568.1 1112.4,2566.2 1140.0,2569.9 1149.5,2569.9 1203.9,2570.8 1258.4,2568.9 1312.9,2567.5 1375.0,2565.3 1375.0,2566.2 1402.2,2565.3 1420.4,2564.4 1431.3,2563.5"/>
<polyline stroke="#800000" stroke-width="9.2" points="1074.5,2700.3 1074.6,2700.3"/>
<polyline stroke="#8080ff" stroke-width="10.0" points="1243.9,2578.9 1251.2,2583.5 1262.1,2579.8 1271.1,2574.4 1283.8,2578.9 1294.7,2581.7 1312.9,2581.7 1331.1,2579.8 1375.0,2578.9 1375.0,2578.9 1393.2,2578.9 1420.4,2574.4 1465.8,2574.4 1502.1,2572.6 1538.4,2573.5 1574.7,2572.6 1592.9,2573.5 1612.9,2571.7"/>
<polyline stroke="#800080" stroke-width="10.0" points="739.3,2550.8 752.9,2556.2 771.1,2560.8 789.2,2561.7 815.0,2563.5 815.0,2564.4 833.2,2565.0 847.7,2568.9 887.6,2569.9 923.9,2570.8 960.3,2570.4 996.6,2571.1 1032.9,2571.1 1051.1,2570.8 1047.7,2571.3 1064.4,2569.0 1069.9,2561.6 1072.7,2550.5"/>
<polyline stroke="#800080" stroke-width="10.0" points="1076.4,2600.4 1076.9,2589.3 1080.1,2580.1 1089.3,2574.5 1103.2,2574.5 1112.4,2571.8 1119.8,2575.5 1126.3,2574.5"/>
<polyline stroke="#800080" stroke-width="9.2" points="1073.9,2506.3 1073.9,2506.3"/>
<polyline stroke="#800080" stroke-width="9.2" points="1073.6,2539.0 1073.6,2539.0"/>
<polyline stroke="#800080" stroke-width="9.2" points="1075.5,2613.8 1075.5,2613.8"/>
<polyline stroke="#800080" stroke-width="9.2" points="1075.5,2659.1 1075.5,2659.1"/>
<polyline stroke="#8000ff" stroke-width="10.0" points="379.4,2576.2 400.3,2580.8 418.4,2581.7 431.1,2578.9 443.8,2577.1 469.3,2578.9 482.0,2578.0 494.7,2574.4 509.2,2574.4 523.7,2571.7 535.0,2569.9 535.0,2569.9 571.3,2568.0 607.6,2566.2 643.9,2565.3 658.5,2564.4 680.3,2567.1 716.6,2568.9 752.9,2569.9 771.1,2570.8 785.6,2573.5 793.8,2571.7"/>
<polyline stroke="#808080" stroke-width="11.5" points="1523.0,2549.9 1538.4,2545.3 1547.5,2545.3 1556.6,2549.0 1574.7,2549.9 1611.1,2549.9 1655.0,2550.8 1655.0,2551.7 1709.5,2552.6 1763.9,2554.4 1818.4,2555.3 1872.9,2555.3 1891.1,2554.4"/>
<polyline stroke="#808000" stroke-width="12.5" points="269.5,2554.4 265.9,2559.0 265.9,2572.6 273.2,2576.2 279.5,2582.6 285.9,2570.8 294.9,2565.3 304.0,2560.8 311.3,2572.6 322.2,2578.9 333.1,2572.6 344.0,2566.2 353.1,2558.1 362.1,2563.5 371.2,2564.4 382.1,2568.0 394.8,2568.9 409.3,2573.5 422.1,2575.3 431.1,2573.5 443.8,2580.8 456.6,2583.5 463.8,2580.8"/>
<polyline stroke="#808000" stroke-width="10.0" points="265.9,2598.0 265.5,2603.5"/>
<polyline stroke="#808000" stroke-width="10.0" points="1875.6,2588.0 1883.8,2587.1 1892.0,2585.3"/>
</g>
<g class="tl" fill="#262626" font-size="83.33px">
<text transform="translate(238.5,2813.00) scale(1,1.015)" text-anchor="end">7</text>
<text transform="translate(238.5,2671.75) scale(1,1.015)" text-anchor="end">8</text>
<text transform="translate(238.5,2530.50) scale(1,1.015)" text-anchor="end">9</text>
<text transform="translate(239.8,2389.25) scale(1,1.015)" text-anchor="end">10</text>
<text transform="translate(234.7,2248.00) scale(1,1.015)" text-anchor="end">11</text>
<text transform="translate(264.50,2886.00) scale(1,1.015)" text-anchor="middle">0</text>
<text transform="translate(671.50,2886.00) scale(1,1.015)" text-anchor="middle">6</text>
<text transform="translate(1078.50,2886.00) scale(1,1.015)" text-anchor="middle">12</text>
<text transform="translate(1485.50,2886.00) scale(1,1.015)" text-anchor="middle">18</text>
<text transform="translate(1892.50,2886.00) scale(1,1.015)" text-anchor="middle">24</text>
</g>
<text class="lab" fill="#262626" font-size="91px" text-anchor="middle" transform="translate(1077.50,2996.80) scale(1,1.0)">UTC [h]</text>
<text class="lab" fill="#262626" font-size="91.2px" text-anchor="middle" transform="translate(113,2504.40) rotate(-90) scale(1,1.0)">Difference [m]</text>
<text class="lab" fill="#000" font-size="91.5px" text-anchor="middle" transform="translate(1077.00,2182.50) scale(1,1.037)">DFPPP3</text>
</g>
</svg>
</body>
</html>
